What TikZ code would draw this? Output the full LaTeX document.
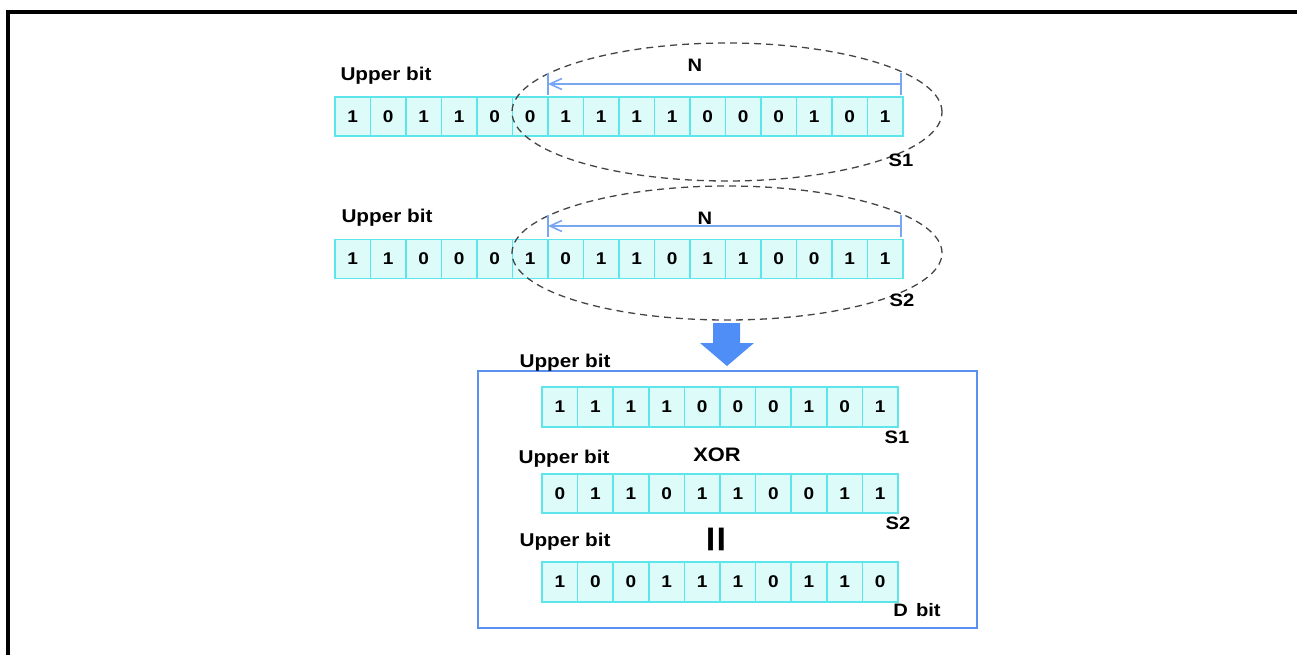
\documentclass[tikz,border=0pt]{standalone}
\usepackage{fontspec}
\setmainfont{Liberation Sans}[FakeStretch=1.12]
\usetikzlibrary{arrows.meta,shapes.geometric}
\definecolor{cellfill}{HTML}{DDFBF9}
\definecolor{celledge}{HTML}{5CE6EC}
\definecolor{nblue}{HTML}{78A6F2}
\definecolor{boxblue}{HTML}{5A90F0}
\definecolor{arrowblue}{HTML}{4F8EF7}
\definecolor{dashgray}{HTML}{444444}
\begin{document}
\begin{tikzpicture}[x=1pt,y=-1pt,
  cell/.style={draw=celledge, fill=cellfill, line width=1.5pt, inner sep=0pt,
    minimum width=35.5pt, minimum height=39pt,
    font=\fontsize{17}{17}\selectfont\bfseries},
  lab/.style={inner sep=0pt, font=\fontsize{18.5}{18.5}\selectfont\bfseries},
  slab/.style={inner sep=0pt, font=\fontsize{18}{18}\selectfont\bfseries},
  dashell/.style={ellipse, draw=dashgray, line width=1.3pt, dash pattern=on 7pt off 5pt,
    inner sep=0pt, minimum width=430pt},
  nline/.style={draw=nblue, line width=1.6pt},
  narrow/.style={nline, -{Straight Barb[length=12pt,width=11pt]}}]
\useasboundingbox (0,0) rectangle (1297,655);
% frame
\draw[line width=4pt] (8,655) -- (8,12) -- (1297,12);

% row 1
\foreach \d [count=\i] in {1,0,1,1,0,0,1,1,1,1,0,0,0,1,0,1}
  \node[cell] (a\i) at ({335+(\i-0.5)*35.5},116.5) {\d};
% row 2
\foreach \d [count=\i] in {1,1,0,0,0,1,0,1,1,0,1,1,0,0,1,1}
  \node[cell] (b\i) at ({335+(\i-0.5)*35.5},259) {\d};

\node[dashell, minimum height=138pt] (e1) at (727,112) {};
\node[dashell, minimum height=134pt] (e2) at (727,253) {};

\node[lab] (ub1) at (386,76) {Upper bit};
\node[lab] (ub2) at (387,218) {Upper bit};

% N arrows
\coordinate (n1r) at (901,84); \coordinate (n1l) at (548,84);
\draw[nline] (901,73) -- (901,95);
\draw[nline] (548,73) -- (548,95);
\draw[narrow] (n1r) -- (n1l);
\node[slab] (N1) at (695,65) {N};

\coordinate (n2r) at (901,226); \coordinate (n2l) at (548,226);
\draw[nline] (901,215) -- (901,237);
\draw[nline] (548,215) -- (548,237);
\draw[narrow] (n2r) -- (n2l);
\node[slab] (N2) at (705,218) {N};

\node[slab] (s1) at (901,160) {S1};
\node[slab] (s2) at (902,300) {S2};

% big down arrow
\fill[arrowblue] (713,323) -- (740,323) -- (740,343) -- (754,343) -- (727,366)
  -- (700,343) -- (713,343) -- cycle;

% result box
\draw[boxblue, line width=2pt] (478,371) rectangle (977,628);

\foreach \d [count=\i] in {1,1,1,1,0,0,0,1,0,1}
  \node[cell, minimum width=35.6pt, minimum height=40pt] (c\i) at ({542+(\i-0.5)*35.6},407) {\d};
\foreach \d [count=\i] in {0,1,1,0,1,1,0,0,1,1}
  \node[cell, minimum width=35.6pt, minimum height=39pt] (d\i) at ({542+(\i-0.5)*35.6},493.5) {\d};
\foreach \d [count=\i] in {1,0,0,1,1,1,0,1,1,0}
  \node[cell, minimum width=35.6pt, minimum height=40pt] (f\i) at ({542+(\i-0.5)*35.6},582) {\d};

\node[lab] (ua) at (565,363) {Upper bit};
\node[lab] (ubb) at (564,459) {Upper bit};
\node[lab] (uc) at (565,542) {Upper bit};
\node[slab] (s1b) at (897,437) {S1};
\node[slab] (s2b) at (898,523) {S2};
\node[lab, font=\fontsize{19.5}{19.5}\selectfont\bfseries] (xor) at (717,455) {XOR};
\node[inner sep=0pt, font=\fontsize{24}{24}\selectfont\bfseries] (eq) at (716,539) {\scalebox{1.4}[1]{||}};
\node[slab] (dbit) at (917,610) {D\hspace{0.45em}bit};
\end{tikzpicture}
\end{document}
